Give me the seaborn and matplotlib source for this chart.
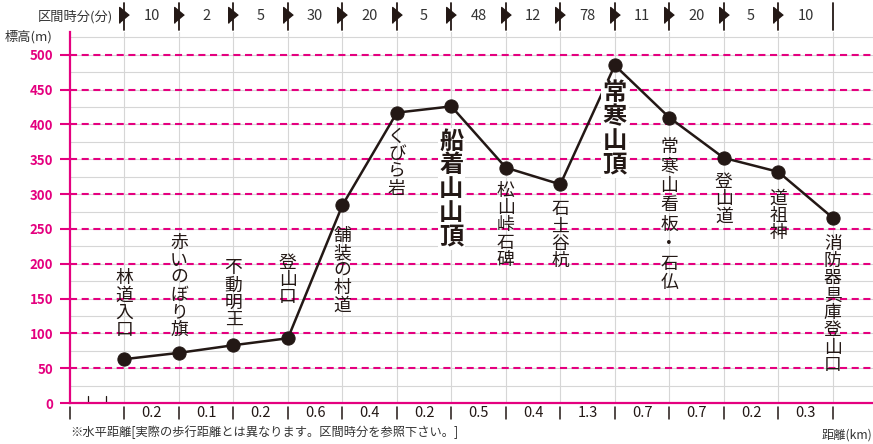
import numpy as np
import pandas as pd
import matplotlib
matplotlib.use("Agg")
import matplotlib.pyplot as plt
import seaborn as sns

# ---------------- data ----------------
places = ["林道入口", "赤いのぼり旗", "不動明王", "登山口", "舗装の村道", "くびら岩",
          "船着山山頂", "松山峠石碑", "石土谷杭", "常寒山頂", "常寒山看板・石仏",
          "登山道", "道祖神", "消防器具庫登山口"]
elevations = [63, 72, 83, 93, 284, 417, 426, 338, 314, 485, 410, 352, 332, 266]
section_minutes = ["10", "2", "5", "30", "20", "5", "48", "12", "78", "11", "20", "5", "10"]
section_km = ["0.2", "0.1", "0.2", "0.6", "0.4", "0.2", "0.5", "0.4", "1.3", "0.7", "0.7", "0.2", "0.3"]
y_ticks = [0, 50, 100, 150, 200, 250, 300, 350, 400, 450, 500]
summits = ["船着山山頂", "常寒山頂"]

# ---------------- label styling (layout only) ----------------
label_above = [True, True, True, True] + [False] * 10
label_gap_px = [22, 16, 18, 34, 22, 15, 23, 14, 16, 16, 20, 15, 18, 17]
label_pitch_px = [17.3] * 14
label_pitch_px[10] = 19.5

PINK = "#e4007f"
INK = "#231815"
GRID = "#d6d6d6"
W, H = 873, 444
AX_L, AX_T, AX_B = 70, 32, 403
PX_PER_UNIT = 0.6963

sns.set_theme(style="white")
plt.rcParams["font.family"] = ["Noto Sans CJK JP", "DejaVu Sans"]

fig = plt.figure(figsize=(W / 100, H / 100), dpi=100)
ax = fig.add_axes([AX_L / W, (H - AX_B) / H, 1 - AX_L / W, (AX_B - AX_T) / H])

df = pd.DataFrame({"pos": np.arange(1, len(places) + 1), "elev": elevations, "place": places})
ax.set_xlim(0, (W - AX_L) / 54.48)
ax.set_ylim(0, (AX_B - AX_T) / PX_PER_UNIT)

# gray grid
for yy in np.arange(25, 550, 25):
    ax.axhline(yy, color=GRID, lw=0.8, zorder=0)
for xx in df["pos"]:
    ax.axvline(xx, color=GRID, lw=0.8, zorder=0)
# pink dashed lines
for yy in y_ticks[1:]:
    ax.axhline(yy, color=PINK, lw=1.5, ls=(0, (3.4, 2.2)), zorder=1)

sns.lineplot(data=df, x="pos", y="elev", ax=ax, color=INK, lw=1.8, marker="o",
             markersize=9.5, markerfacecolor=INK, markeredgecolor=INK, zorder=3,
             legend=False)

# spines
for s in ["top", "right"]:
    ax.spines[s].set_visible(False)
for s in ["left", "bottom"]:
    ax.spines[s].set_color(PINK)
    ax.spines[s].set_linewidth(1.6)
    ax.spines[s].set_zorder(4)

ax.set_yticks(y_ticks)
ax.set_yticklabels([str(v) for v in y_ticks], color=PINK, fontweight="bold", fontsize=9.5)
ax.tick_params(axis="y", direction="out", length=7.2, width=1.5, color=PINK, pad=5, left=True)
ax.set_xticks([])
ax.set_xlabel("")
ax.set_ylabel("")

xtr = ax.get_xaxis_transform()
def ay(ypx):
    return 1 - (ypx - AX_T) / (AX_B - AX_T)

# bottom ticks and distance labels
for i in range(len(places) + 1):
    ax.plot([i, i], [ay(407), ay(419)], transform=xtr, color=INK, lw=1.1, clip_on=False)
for i, km in enumerate(section_km):
    ax.text(i + 1.5, ay(413), km, transform=xtr, ha="center", va="center",
            fontsize=10.5, color=INK)
# small ticks at origin
for xx in [1 / 3, 2 / 3]:
    ax.plot([xx, xx], [0, 10], color=INK, lw=0.9, zorder=2)

# top section time header
tri = [(-0.6, -1), (-0.6, 1), (0.6, 0)]
for i in range(len(places)):
    ax.plot([i + 1, i + 1], [ay(30), ay(3)], transform=xtr, color=INK, lw=1.3, clip_on=False)
for i, m in enumerate(section_minutes):
    ax.plot([i + 1], [ay(15.5)], transform=xtr, marker=tri, markersize=11.5, color=INK,
            ls="none", clip_on=False)
    ax.text(i + 1.5, ay(16.5), m, transform=xtr, ha="center", va="center", fontsize=10.5,
            color="#333333")
fig.text(113 / W, 1 - 16.5 / H, "区間時分(分)", ha="right", va="center", fontsize=9.5,
         color="#333333")
fig.text(53 / W, 1 - 36.5 / H, "標高(m)", ha="right", va="center", fontsize=9.5,
         color="#333333")
fig.text(70 / W, 1 - 432 / H, "※水平距離[実際の歩行距離とは異なります。区間時分を参照下さい。]",
         ha="left", va="center", fontsize=8.8, color="#333333")
fig.text(872 / W, 1 - 435 / H, "距離(km)", ha="right", va="center", fontsize=8.8,
         color="#333333")

# vertical place labels
PT = 72 / 100
for i, name in enumerate(places):
    big = name in summits
    fs = 17.5 if big else 12.8
    glyph = fs / PT * 0.9
    pitch = 23.8 if big else label_pitch_px[i]
    n = len(name)
    if label_above[i]:
        top = -(label_gap_px[i] + (n - 1) * pitch + glyph)
    else:
        top = label_gap_px[i]
    for k, ch in enumerate(name):
        rel = top + k * pitch
        kw = dict(fontsize=fs, color=INK, ha="center", va="top", zorder=5,
                  fontweight="bold" if big else "normal")
        if big:
            kw["bbox"] = dict(fc="white", ec="none", pad=1.2)
        ax.annotate(ch, xy=(i + 1, elevations[i]), xytext=(0, -rel * PT),
                    textcoords="offset points", **kw)

fig.savefig("out.png", dpi=100)
